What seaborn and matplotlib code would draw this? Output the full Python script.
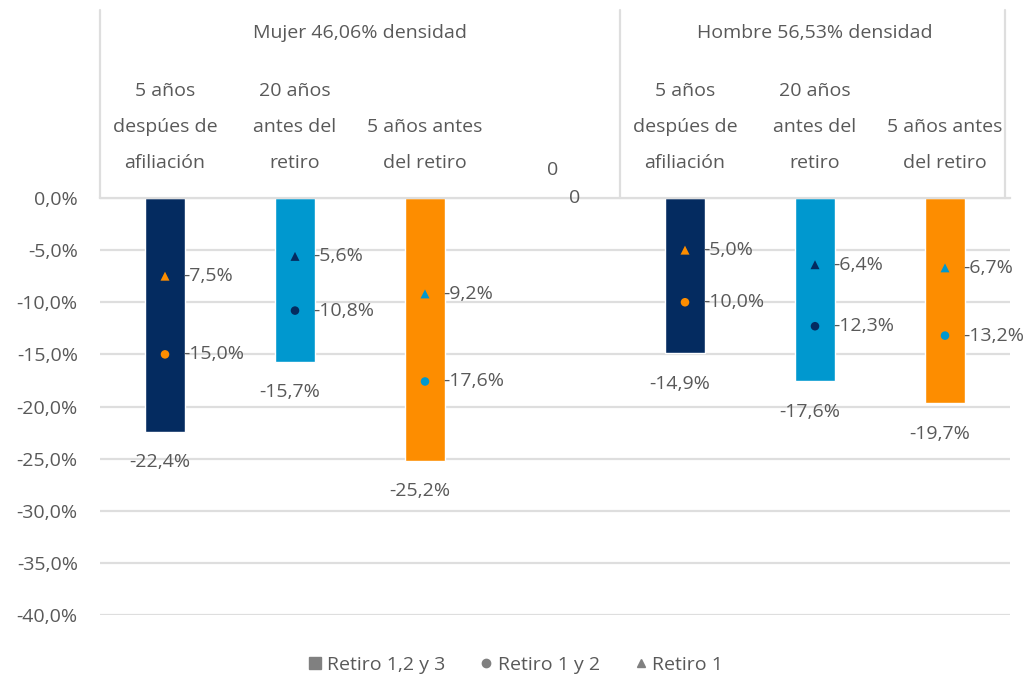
import numpy as np
import matplotlib
matplotlib.use("Agg")
import matplotlib.pyplot as plt
import matplotlib.transforms as mtransforms
from matplotlib.lines import Line2D
from matplotlib.ticker import FuncFormatter
import seaborn as sns
import pandas as pd

# datos
categorias = ["5 años\ndespúes de\nafiliación", "20 años\nantes del\nretiro", "5 años antes\ndel retiro", " ",
              "5 años\ndespúes de\nafiliación ", "20 años\nantes del\nretiro ", "5 años antes\ndel retiro "]
grupos = ["Mujer 46,06% densidad", "Hombre 56,53% densidad"]
retiro_123 = [-22.4, -15.7, -25.2, 0.0, -14.9, -17.6, -19.7]
retiro_12 = [-15.0, -10.8, -17.6, np.nan, -10.0, -12.3, -13.2]
retiro_1 = [-7.5, -5.6, -9.2, np.nan, -5.0, -6.4, -6.7]
series_nombres = ["Retiro 1,2 y 3", "Retiro 1 y 2", "Retiro 1"]

NAVY = "#042b60"
CELESTE = "#0098cf"
NARANJA = "#fd8d00"
GRIS_TXT = "#595959"
GRIS_LIN = "#dedede"

color_barras = [NAVY, CELESTE, NARANJA, "#ffffff", NAVY, CELESTE, NARANJA]
color_marcas = [NARANJA, NAVY, CELESTE, "#ffffff", NARANJA, NAVY, CELESTE]

sns.set_style("white")
plt.rcParams["font.family"] = ["Open Sans", "DejaVu Sans"]

fig = plt.figure(figsize=(10.29, 6.85), dpi=100)
ax = fig.add_axes([100 / 1029, 70 / 685, 910 / 1029, 417 / 685])

df = pd.DataFrame({"cat": categorias, "valor": retiro_123})
sns.barplot(data=df, x="cat", y="valor", hue="cat", palette=color_barras,
            width=0.31, legend=False, ax=ax, saturation=1)

pos = np.arange(len(categorias))
ax.scatter(pos, retiro_12, marker="o", s=38, c=color_marcas, zorder=4, linewidths=0)
ax.scatter(pos, retiro_1, marker="^", s=42, c=color_marcas, zorder=4, linewidths=0)

def pct(v):
    return f"{v:.1f}%".replace(".", ",")

fs = 14
for i, v in enumerate(retiro_123):
    if i == 3:
        continue
    ax.annotate(pct(v), (i, v), xytext=(-4, -22), textcoords="offset points",
                ha="center", va="center", fontsize=fs, color=GRIS_TXT)
for serie in (retiro_12, retiro_1):
    for i, v in enumerate(serie):
        if np.isnan(v):
            continue
        ax.annotate(pct(v), (i, v), xytext=(13, 0), textcoords="offset points",
                    ha="left", va="center", fontsize=fs, color=GRIS_TXT)
# etiquetas "0" de la categoria vacia
ax.annotate("0", (3, 0), xytext=(-2, 20), textcoords="offset points",
            ha="center", va="center", fontsize=fs, color=GRIS_TXT)
ax.annotate("0", (3, 0), xytext=(14, 0), textcoords="offset points",
            ha="center", va="center", fontsize=fs, color=GRIS_TXT)

ax.set_ylim(-40, 0)
ax.set_xlim(-0.5, len(categorias) - 0.5)
ax.set_yticks(np.arange(-40, 1, 5))
ax.yaxis.set_major_formatter(FuncFormatter(lambda v, p: pct(v)))
ax.tick_params(axis="y", length=0, pad=16, labelsize=fs, labelcolor=GRIS_TXT)
ax.set_xticks([])
ax.set_xlabel("")
ax.set_ylabel("")
ax.grid(axis="y", color=GRIS_LIN, linewidth=1.6)
ax.set_axisbelow(True)
for s in ["left", "right", "bottom"]:
    ax.spines[s].set_visible(False)
ax.spines["top"].set_color(GRIS_LIN)
ax.spines["top"].set_linewidth(1.6)

# encabezado de categorias
tr = mtransforms.blended_transform_factory(ax.transData, ax.transAxes)
for xb in (-0.5, 3.5, 6.46):
    ax.plot([xb, xb], [1.0, 1.452], transform=tr, color=GRIS_LIN, lw=1.6,
            clip_on=False)
for i, c in enumerate(categorias):
    if not c.strip():
        continue
    ax.text(i, 1.062, c.strip(), transform=tr, ha="center", va="bottom",
            fontsize=fs, color=GRIS_TXT, linespacing=2.3)
ax.text(1.5, 1.395, grupos[0], transform=tr, ha="center", va="center",
        fontsize=fs, color=GRIS_TXT)
ax.text(5.0, 1.395, grupos[1], transform=tr, ha="center", va="center",
        fontsize=fs, color=GRIS_TXT)

# leyenda
gris = "#808080"
handles = [Line2D([], [], marker="s", ls="", color=gris, markersize=9),
           Line2D([], [], marker="o", ls="", color=gris, markersize=6),
           Line2D([], [], marker="^", ls="", color=gris, markersize=6)]
fig.legend(handles, series_nombres, loc="center", bbox_to_anchor=(0.5, 20 / 685),
           ncol=3, frameon=False, fontsize=fs, labelcolor=GRIS_TXT,
           handletextpad=0.1, columnspacing=1.6, handlelength=1.0)

fig.savefig("out.png", dpi=100)
